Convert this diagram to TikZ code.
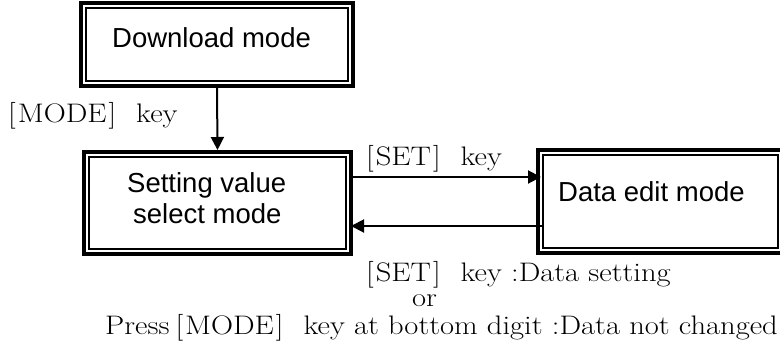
\documentclass[tikz,border=0pt]{standalone}
\usepackage{fontspec}
\newfontfamily\boxfont{Liberation Sans}
\newfontfamily\labfont{Latin Modern Roman}[FakeStretch=1.14]
\usetikzlibrary{arrows.meta}
\newcommand\brk[1]{[\kern2pt#1\kern2pt]\hspace{20pt}}
\begin{document}
\begin{tikzpicture}[x=1pt,y=-1pt,
 obox/.style={draw, line width=4pt, inner sep=0pt},
 ibox/.style={draw, line width=2pt},
 btxt/.style={font=\boxfont\fontsize{27.5}{31}\selectfont, anchor=base west, inner sep=0pt},
 stxt/.style={font=\labfont\fontsize{26.8}{31}\selectfont, anchor=base west, inner sep=0pt},
 arr/.style={line width=2pt, -{Triangle[length=13pt,width=13pt]}}]
\useasboundingbox (0,0) rectangle (780,349);
% boxes
\node[obox, minimum width=272pt, minimum height=83pt] (dl) at (217,44.5) {};
\node[obox, minimum width=267pt, minimum height=102pt] (sv) at (217.5,203) {};
\node[obox, minimum width=245pt, minimum height=103pt] (dt) at (660.5,201.5) {};
\foreach \b in {dl,sv,dt}
  \draw[ibox] ([shift={(7pt,-7pt)}]\b.north west) rectangle ([shift={(-7pt,7pt)}]\b.south east);
% box texts
\node[btxt] (t1) at (112,47) {Download mode};
\node[btxt] (t2) at (127,192) {Setting value};
\node[btxt] (t3) at (133,223) {select mode};
\node[btxt] (t4) at (558,201) {Data edit mode};
% labels
\node[stxt] (l1) at (8,122) {\brk{MODE}key};
\node[stxt] (l2) at (366,165) {\brk{SET}key};
\node[stxt] (l3) at (366,281) {\brk{SET}key :Data setting};
\node[stxt] (l4) at (412,306) {or};
\node[stxt] (l5) at (105,334) {Press\hspace{6pt}\brk{MODE}key at bottom digit :Data not changed};
% arrows
\draw[arr] (dl.south) -- (sv.north);
\draw[arr, shorten <=-3pt, shorten >=-5pt] (sv.east |- 0,177) -- (dt.west |- 0,177);
\draw[arr, shorten <=-7pt, shorten >=-2pt] (dt.west |- 0,226) -- (sv.east |- 0,226);
\end{tikzpicture}
\end{document}
